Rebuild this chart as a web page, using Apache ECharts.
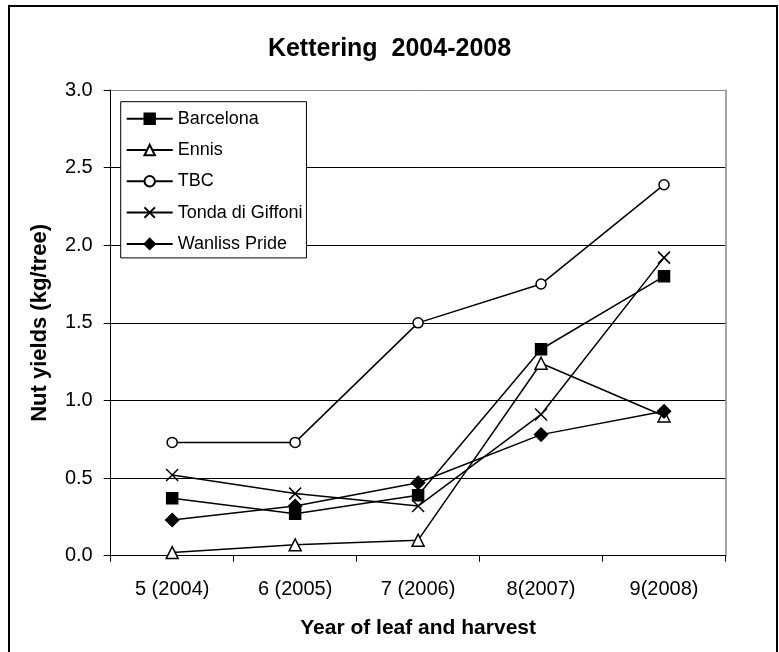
<!DOCTYPE html>
<html>
<head>
<meta charset="utf-8">
<script src="https://cdn.jsdelivr.net/npm/echarts@6/dist/echarts.min.js"></script>
<style>
  html, body { margin: 0; padding: 0; background: #fff; }
  #chart { width: 779px; height: 652px; }
</style>
</head>
<body>
<div id="chart"></div>
<script>
// Hazelnut yields per tree at Kettering, by year of leaf and harvest
const categories = ['5 (2004)', '6 (2005)', '7 (2006)', '8(2007)', '9(2008)'];
const barcelona = [0.37, 0.27, 0.39, 1.33, 1.80];
const ennis     = [0.02, 0.07, 0.10, 1.24, 0.90];
const tbc       = [0.73, 0.73, 1.50, 1.75, 2.39];
const tonda     = [0.52, 0.40, 0.32, 0.91, 1.92];
const wanliss   = [0.23, 0.32, 0.47, 0.78, 0.93];
const yTicks = [0, 0.5, 1.0, 1.5, 2.0, 2.5, 3.0];

const FONT = 'Liberation Sans, Arial, sans-serif';
const crossPath = 'path://M0,0L10,10M10,0L0,10';

function lineSeries(name, data, symbol, size, filled) {
  return {
    name: name,
    type: 'line',
    data: data,
    symbol: symbol,
    symbolSize: size,
    showAllSymbol: true,
    lineStyle: { color: '#000', width: 1.5 },
    itemStyle: {
      color: filled ? '#000' : '#fff',
      borderColor: '#000',
      borderWidth: 1.5
    },
    emphasis: { disabled: true },
    z: 3
  };
}

const chart = echarts.init(document.getElementById('chart'), null, { renderer: 'canvas' });
chart.setOption({
  animation: false,
  backgroundColor: '#fff',
  textStyle: { fontFamily: FONT },
  title: {
    text: 'Kettering  2004-2008',
    left: 'center',
    top: 32,
    textStyle: { fontFamily: FONT, fontWeight: 'bold', fontSize: 25, color: '#000' }
  },
  graphic: [{
    type: 'rect',
    shape: { x: 9, y: 6, width: 768, height: 680 },
    style: { fill: 'none', stroke: '#000', lineWidth: 2 },
    silent: true,
    z: 10
  }],
  grid: { left: 110.7, right: 53.5, top: 90, bottom: 96.3, containLabel: false },
  legend: {
    orient: 'vertical',
    left: 120.7,
    top: 101.7,
    padding: [7, 4, 4, 5],
    itemWidth: 46,
    itemHeight: 13,
    itemGap: 11.3,
    backgroundColor: '#fff',
    borderColor: '#000',
    borderWidth: 1,
    textStyle: { fontFamily: FONT, fontSize: 18, color: '#000', lineHeight: 20 },
    data: ['Barcelona', 'Ennis', 'TBC', 'Tonda di Giffoni', 'Wanliss Pride']
  },
  xAxis: {
    type: 'category',
    data: categories,
    boundaryGap: true,
    name: 'Year of leaf and harvest',
    nameLocation: 'middle',
    nameGap: 62,
    nameTextStyle: { fontFamily: FONT, fontWeight: 'bold', fontSize: 21, color: '#000' },
    axisLine: { lineStyle: { color: '#000', width: 1 } },
    axisTick: { show: true, length: 6, inside: false, lineStyle: { color: '#000' } },
    axisLabel: { fontFamily: FONT, fontSize: 20, color: '#000', margin: 24 },
    splitLine: { show: false }
  },
  yAxis: [{
    type: 'value',
    min: 0,
    max: 3,
    interval: 0.5,
    name: 'Nut yields (kg/tree)',
    nameLocation: 'middle',
    nameGap: 60,
    nameTextStyle: { fontFamily: FONT, fontWeight: 'bold', fontSize: 22, color: '#000' },
    axisLine: { show: true, lineStyle: { color: '#000', width: 1 } },
    axisTick: { show: true, length: 7, inside: false, lineStyle: { color: '#000' } },
    axisLabel: {
      fontFamily: FONT, fontSize: 20, color: '#000', margin: 18,
      formatter: v => v.toFixed(1)
    },
    splitLine: {
      show: true,
      lineStyle: { color: ['#000', '#000', '#000', '#000', '#000', '#000', '#888'], width: 1 }
    }
  }, {
    // right-hand frame edge of the plot area
    type: 'value',
    min: 0,
    max: 3,
    interval: 0.5,
    position: 'right',
    axisLine: { show: true, lineStyle: { color: '#888', width: 1.5 } },
    axisTick: { show: false },
    axisLabel: { show: false },
    splitLine: { show: false }
  }],
  series: [
    lineSeries('Barcelona', barcelona, 'rect', 11, true),
    lineSeries('Ennis', ennis, 'triangle', 12, false),
    lineSeries('TBC', tbc, 'circle', 10, false),
    lineSeries('Tonda di Giffoni', tonda, crossPath, 12, false),
    lineSeries('Wanliss Pride', wanliss, 'diamond', 13, true)
  ]
});
</script>
</body>
</html>
